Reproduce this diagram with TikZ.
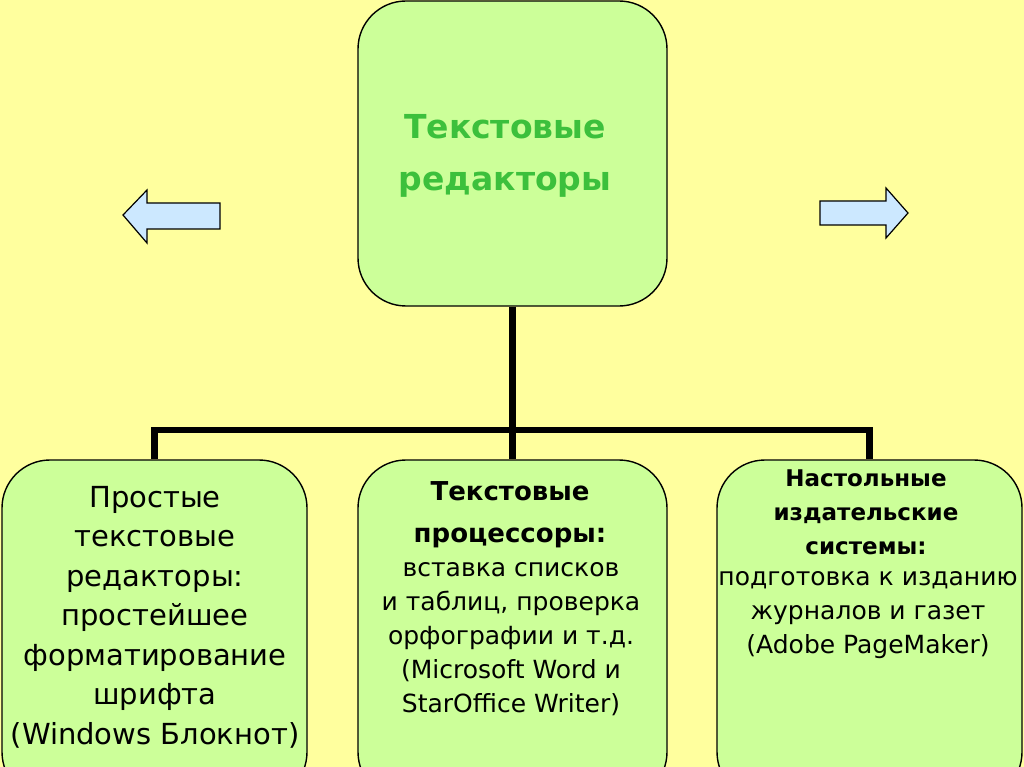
\documentclass[tikz,border=0pt]{standalone}
\usepackage{fontspec}
\setmainfont{DejaVu Sans}
\definecolor{bg}{HTML}{FFFF9E}
\definecolor{boxfill}{HTML}{CCFF99}
\definecolor{titlegreen}{HTML}{3CC03C}
\definecolor{arrowfill}{HTML}{CCE8FF}
\tikzset{
  box/.style={draw=black, line width=1.4pt, fill=boxfill, rounded corners=48pt, inner sep=0pt},
  conn/.style={draw=black, line width=6.5pt},
  txt/.style={align=center, inner sep=0pt, text=black},
  sidearrow/.style={draw=black, line width=1.2pt, fill=arrowfill, line join=miter},
}
\begin{document}
\begin{tikzpicture}[x=1pt,y=-1pt]
\useasboundingbox (0,0) rectangle (1024,767);
\clip (0,0) rectangle (1024,767);
\fill[bg] (0,0) rectangle (1024,767);
% boxes
\node[box, minimum width=309pt, minimum height=305pt] (top) at (512.5,153.5) {};
\node[box, minimum width=305pt, minimum height=340pt] (l) at (154.5,630) {};
\node[box, minimum width=309pt, minimum height=340pt] (m) at (512.5,630) {};
\node[box, minimum width=305pt, minimum height=340pt] (r) at (869.5,630) {};
% connectors
\coordinate (bus) at (512.5,430);
\draw[conn] (top.south) -- (m.north);
\draw[conn] (l.north) |- (bus) -| (r.north);
% side arrows
\draw[sidearrow] (123,215) -- (147,190) -- (147,203) -- (220,203) -- (220,229) -- (147,229) -- (147,243) -- cycle;
\draw[sidearrow] (908,213) -- (886,188) -- (886,201) -- (820,201) -- (820,225) -- (886,225) -- (886,238) -- cycle;
% texts
\node[txt, text=titlegreen, font=\fontsize{33}{52}\selectfont\bfseries] (ttl) at (505,156) {Текстовые\\редакторы};
\node[txt, font=\fontsize{29}{39.5}\selectfont] (lt) at (155,617) {Простые\\текстовые\\редакторы:\\простейшее\\форматирование\\шрифта\\(Windows Блокнот)};
\node[txt, font=\fontsize{26}{42}\selectfont\bfseries] (mh) at (510,515) {Текстовые\\процессоры:};
\node[txt, font=\fontsize{25}{34}\selectfont] (mt) at (511,639) {вставка списков\\и таблиц, проверка\\орфографии и т.д.\\(Microsoft Word и\\StarOffice Writer)};
\node[txt, font=\fontsize{23}{34}\selectfont\bfseries] (rh) at (866,512) {Настольные\\издательские\\системы:};
\node[txt, font=\fontsize{25}{34}\selectfont] (rt) at (868,615) {подготовка к изданию\\журналов и газет\\(Adobe PageMaker)};
\end{tikzpicture}
\end{document}
